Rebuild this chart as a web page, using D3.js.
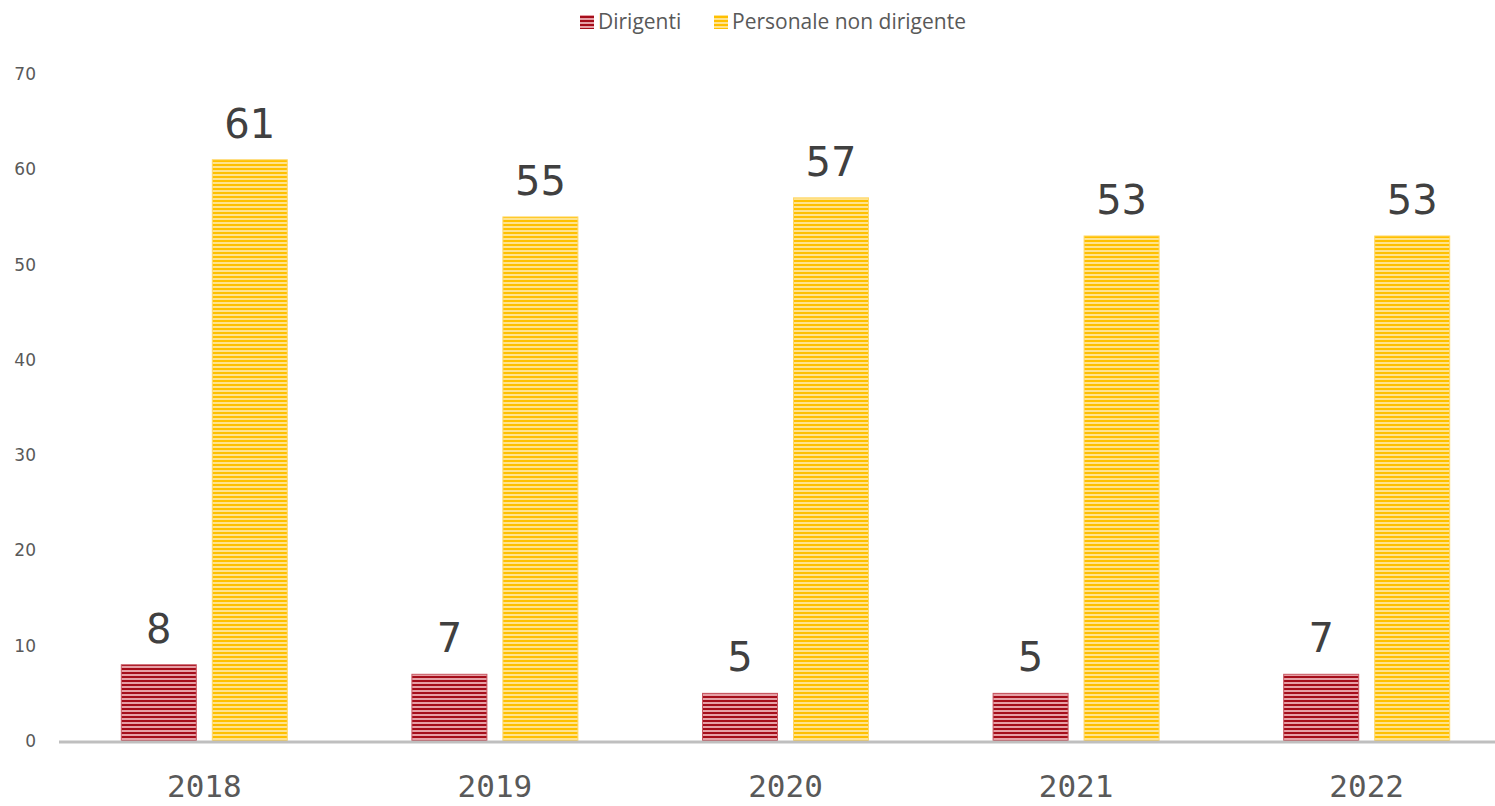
<!DOCTYPE html>
<html>
<head>
<meta charset="utf-8">
<script src="https://cdn.jsdelivr.net/npm/d3@7"></script>
<style>
body { margin: 0; background: #fff; }
svg { display: block; }
</style>
</head>
<body>
<div id="area"></div>
<script>
var years = ["2018", "2019", "2020", "2021", "2022"];
var dirigenti = [8, 7, 5, 5, 7];
var personale = [61, 55, 57, 53, 53];
var seriesNames = ["Dirigenti", "Personale non dirigente"];
var yTicks = [0, 10, 20, 30, 40, 50, 60, 70];

var width = 1495;
var height = 806;

var svg = d3.select("#area").append("svg")
    .attr("width", width)
    .attr("height", height);

// stripe patterns
var defs = svg.append("defs");
var pat = [
    { id: "stripeRed", dark: "#a50d1a", light: "#e6a0a6" },
    { id: "stripeYel", dark: "#ffc000", light: "#ffe38f" }
];
pat.forEach(function(p) {
    var pt = defs.append("pattern")
        .attr("id", p.id)
        .attr("patternUnits", "userSpaceOnUse")
        .attr("width", 8).attr("height", 4);
    pt.append("rect").attr("width", 8).attr("height", 4).attr("fill", p.light);
    pt.append("rect").attr("width", 8).attr("height", 2).attr("fill", p.dark);
});

var x = d3.scaleBand()
    .domain(years)
    .range([59, 1512])
    .paddingInner(0)
    .paddingOuter(0);

var y = d3.scaleLinear()
    .domain([0, 70])
    .range([741, 74]);

var barW = 75, gap = 16;

// y axis labels
svg.append("g").selectAll("text")
    .data(yTicks)
    .enter().append("text")
    .attr("x", 36)
    .attr("y", function(d) { return y(d) + 6; })
    .attr("text-anchor", "end")
    .attr("fill", "#595959")
    .style("font-family", "DejaVu Sans, Verdana, sans-serif")
    .style("font-size", "17px")
    .text(function(d) { return d; });

var table = years.map(function(yr, i) {
    return { year: yr, vals: [dirigenti[i], personale[i]] };
});

var groups = svg.append("g").selectAll("g")
    .data(table)
    .enter().append("g");

[0, 1].forEach(function(s) {
    var xo = function(d) {
        var c = x(d.year) + x.bandwidth() / 2;
        return s === 0 ? c - gap / 2 - barW : c + gap / 2;
    };
    groups.append("rect")
        .attr("x", xo)
        .attr("y", function(d) { return y(d.vals[s]); })
        .attr("width", barW)
        .attr("height", function(d) { return y(0) - y(d.vals[s]); })
        .attr("fill", s === 0 ? "url(#stripeRed)" : "url(#stripeYel)")
        .attr("stroke", s === 0 ? "#c85560" : "#ffd766")
        .attr("stroke-width", 1);

    groups.append("text")
        .attr("x", function(d) { return xo(d) + barW / 2; })
        .attr("y", function(d) { return y(d.vals[s]) - 22; })
        .attr("text-anchor", "middle")
        .attr("fill", "#404040")
        .style("font-family", "DejaVu Sans, Verdana, sans-serif")
        .style("font-size", "40px")
        .text(function(d) { return d.vals[s]; });
});

// baseline
svg.append("line")
    .attr("x1", 59).attr("x2", width)
    .attr("y1", y(0) + 1).attr("y2", y(0) + 1)
    .attr("stroke", "#bfbfbf")
    .attr("stroke-width", 3);

// x labels
svg.append("g").selectAll("text")
    .data(years)
    .enter().append("text")
    .attr("x", function(d) { return x(d) + x.bandwidth() / 2; })
    .attr("y", 797)
    .attr("text-anchor", "middle")
    .attr("fill", "#595959")
    .style("font-family", "DejaVu Sans Mono, monospace")
    .style("font-size", "31px")
    .text(function(d) { return d; });

// legend
var legend = svg.append("g");
var lx = [580, 714];
seriesNames.forEach(function(n, i) {
    legend.append("rect")
        .attr("x", lx[i]).attr("y", 15)
        .attr("width", 14).attr("height", 14)
        .attr("fill", i === 0 ? "url(#stripeRed)" : "url(#stripeYel)");
    legend.append("text")
        .attr("x", lx[i] + 18).attr("y", 29)
        .attr("fill", "#595959")
        .style("font-family", "Open Sans, sans-serif")
        .style("font-size", "21px")
        .text(n);
});
</script>
</body>
</html>
